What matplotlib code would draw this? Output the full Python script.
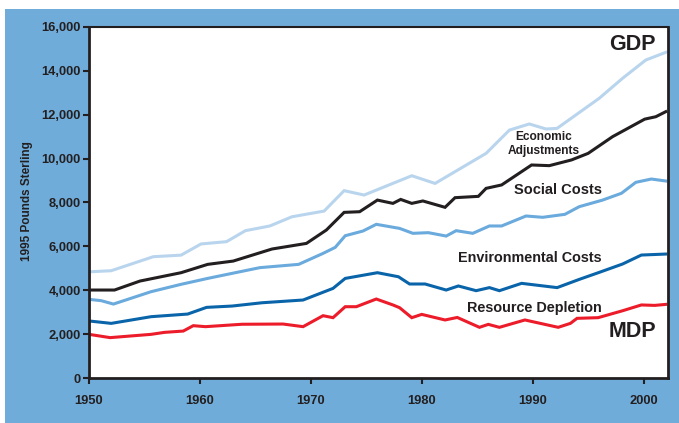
import matplotlib.pyplot as plt
from matplotlib.patches import Rectangle
from matplotlib.ticker import FuncFormatter

plt.rcParams["font.family"] = ["Liberation Sans", "DejaVu Sans"]
plt.rcParams["font.weight"] = "bold"

# ---------- DATA (1995 pounds per head) ----------
gdp_years = [1950, 1952, 1955.8, 1958.3, 1960.1, 1962.4, 1964.1, 1966.3, 1968.3,
             1971.2, 1973.0, 1974.8, 1979.1, 1981.2, 1985.8, 1987.9, 1989.7,
             1991.2, 1992.2, 1994.1, 1996.0, 1998.1, 2000.2, 2002]
gdp = [4840, 4890, 5530, 5600, 6110, 6215, 6715, 6930, 7350,
       7610, 8540, 8340, 9220, 8870, 10240, 11300, 11580,
       11350, 11380, 12065, 12750, 13660, 14495, 14845]

econ_years = [1950, 1952.3, 1954.6, 1958.3, 1960.7, 1963.0, 1966.5, 1969.6,
              1971.4, 1973.0, 1974.4, 1976.0, 1977.4, 1978.1, 1979.1, 1980.1,
              1982.1, 1983.0, 1985.1, 1985.8, 1987.2, 1989.9, 1991.5, 1993.5,
              1995.0, 1997.2, 2000.1, 2001.1, 2002]
econ = [4010, 4010, 4420, 4800, 5180, 5330, 5880, 6135,
        6745, 7550, 7580, 8110, 7960, 8140, 7960, 8070,
        7780, 8220, 8280, 8645, 8800, 9710, 9680, 9940,
        10240, 11000, 11800, 11910, 12140]

social_years = [1950, 1951.1, 1952.2, 1955.6, 1958.3, 1960.7, 1962.9, 1965.4,
                1968.9, 1971.1, 1972.2, 1973.1, 1974.7, 1975.9, 1978.0, 1979.2,
                1980.6, 1982.2, 1983.1, 1984.6, 1986.1, 1987.2, 1989.4, 1990.9,
                1992.9, 1994.2, 1996.3, 1998.0, 1999.3, 2000.7, 2002]
social = [3585, 3525, 3370, 3935, 4270, 4540, 4770, 5030,
          5180, 5680, 5955, 6485, 6700, 7005, 6820, 6595,
          6625, 6470, 6715, 6595, 6930, 6930, 7385, 7325,
          7460, 7810, 8110, 8420, 8920, 9070, 8980]

env_years = [1950, 1952.0, 1955.6, 1958.9, 1960.6, 1962.9, 1965.6, 1969.3,
             1972.0, 1973.1, 1976.0, 1977.9, 1978.9, 1980.3, 1982.2, 1983.3,
             1984.9, 1986.1, 1987.0, 1989.0, 1992.2, 1994.2, 1996.0, 1998.1,
             1999.8, 2002]
env = [2600, 2490, 2795, 2915, 3220, 3280, 3430, 3555,
       4085, 4540, 4800, 4615, 4285, 4285, 4010, 4195,
       3980, 4120, 3980, 4315, 4120, 4495, 4815, 5195,
       5605, 5650]

mdp_years = [1950, 1951.9, 1955.6, 1956.8, 1958.5, 1959.4, 1960.5, 1963.8,
             1967.5, 1969.3, 1971.1, 1972.0, 1973.1, 1974.1, 1975.9, 1977.4,
             1978.0, 1979.1, 1980.0, 1982.1, 1983.2, 1985.2, 1986.0, 1987.0,
             1989.3, 1992.3, 1993.4, 1994.0, 1995.9, 1998.1, 1999.8, 2001.0, 2002]
mdp = [1990, 1840, 1990, 2080, 2140, 2385, 2340, 2450,
       2460, 2340, 2840, 2750, 3250, 3250, 3600, 3330,
       3205, 2750, 2900, 2645, 2760, 2310, 2445, 2310,
       2645, 2310, 2490, 2720, 2750, 3065, 3330, 3310, 3355]

# ---------- PLOT ----------
fig = plt.figure(figsize=(6.79, 4.23), dpi=100, facecolor="white")
fig.patches.append(Rectangle((5 / 679, 0), 1, 414 / 423, transform=fig.transFigure,
                             facecolor="#70acd9", edgecolor="none", zorder=-10))

ax = fig.add_axes([89 / 679, 45 / 423, 579 / 679, 351 / 423])
ax.set_zorder(1)
ax.set_facecolor("white")

lw = 2.2
ax.plot(gdp_years, gdp, color="#b9d5ee", lw=lw, solid_joinstyle="miter")
ax.plot(econ_years, econ, color="#231f20", lw=lw, solid_joinstyle="miter")
ax.plot(social_years, social, color="#6aaadc", lw=lw, solid_joinstyle="miter")
ax.plot(env_years, env, color="#0a64a9", lw=lw, solid_joinstyle="miter")
ax.plot(mdp_years, mdp, color="#ec1c2a", lw=lw, solid_joinstyle="miter")

ax.set_xlim(1950, 2002.2)
ax.set_ylim(0, 16000)
ax.set_xticks([1950, 1960, 1970, 1980, 1990, 2000])
ax.set_yticks(range(0, 16001, 2000))
ax.yaxis.set_major_formatter(FuncFormatter(lambda v, p: f"{int(v):,}"))

for s in ax.spines.values():
    s.set_linewidth(2)
    s.set_color("#231f20")
ax.spines["top"].set_linewidth(1.5)

ax.tick_params(axis="both", direction="out", length=4, width=1.5,
               colors="#231f20", labelsize=9.3)
ax.tick_params(axis="x", pad=8)
ax.tick_params(axis="y", pad=2)
for lab in ax.get_xticklabels() + ax.get_yticklabels():
    lab.set_fontweight("bold")

fig.text(27 / 679, 1 - 201 / 423, "1995 Pounds Sterling", rotation=90,
         ha="center", va="center", fontsize=8.5, fontweight="bold", color="#231f20")

txt = dict(color="#231f20", fontweight="bold", ha="center", va="center",
           transform=fig.transFigure, zorder=5)
fig.text(632 / 679, 1 - 44 / 423, "GDP", fontsize=15.5, **txt)
fig.text(544 / 679, 1 - 144 / 423, "Economic\nAdjustments", fontsize=8.6,
         linespacing=1.3, **txt)
fig.text(558 / 679, 1 - 190 / 423, "Social Costs", fontsize=10.5, **txt)
fig.text(530 / 679, 1 - 258 / 423, "Environmental Costs", fontsize=10.4, **txt)
fig.text(534 / 679, 1 - 308 / 423, "Resource Depletion", fontsize=10.4, **txt)
fig.text(632 / 679, 1 - 331 / 423, "MDP", fontsize=15.5, **txt)

fig.savefig("out.png", dpi=100)
